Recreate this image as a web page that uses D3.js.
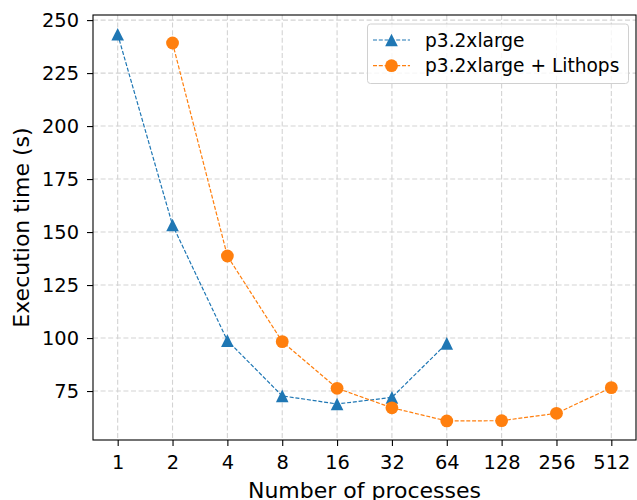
<!DOCTYPE html>
<html>
<head>
<meta charset="utf-8">
<script src="https://cdn.jsdelivr.net/npm/d3@7"></script>
<style>
  html, body { margin: 0; padding: 0; background: #fff; }
  text { font-family: "DejaVu Sans", sans-serif; }
</style>
</head>
<body>
<svg id="chart" width="637" height="500"></svg>
<script>
const categories = ["1", "2", "4", "8", "16", "32", "64", "128", "256", "512"];
const seriesNames = ["p3.2xlarge", "p3.2xlarge + Lithops"];
const p3Values = [243.3, 153.3, 98.8, 72.7, 68.9, 72.0, 97.5, null, null, null];
const lithopsValues = [null, 239.2, 138.7, 98.3, 76.3, 67.1, 60.9, 61.0, 64.5, 76.6];
const yTicks = [75, 100, 125, 150, 175, 200, 225, 250];
const colors = ["#1f77b4", "#ff7f0e"];

const svg = d3.select("#chart");
const W = 637, H = 500;
const m = { left: 93, right: 1, top: 15, bottom: 60 };
const x0 = m.left, x1 = W - m.right, y0 = m.top, y1 = H - m.bottom;

const x = d3.scaleLinear().domain([-0.45, categories.length - 1 + 0.45]).range([x0, x1]);
const y = d3.scaleLinear().domain([51.9, 252.4]).range([y1, y0]);

// grid
const grid = svg.append("g");
grid.selectAll("line.vg").data(categories).enter().append("line")
  .attr("x1", (d, i) => x(i)).attr("x2", (d, i) => x(i))
  .attr("y1", y0).attr("y2", y1)
  .attr("stroke", "#d3d3d3").attr("stroke-width", 1.1).attr("stroke-dasharray", "5,2.6");
grid.selectAll("line.hg").data(yTicks).enter().append("line")
  .attr("x1", x0).attr("x2", x1)
  .attr("y1", d => y(d)).attr("y2", d => y(d))
  .attr("stroke", "#d3d3d3").attr("stroke-width", 1.1).attr("stroke-dasharray", "5,2.6");

// axes
const xAxis = d3.axisBottom(x).tickValues(d3.range(categories.length))
  .tickFormat(i => categories[i]).tickSize(6).tickPadding(9);
const yAxis = d3.axisLeft(y).tickValues(yTicks).tickSize(6).tickPadding(8);

const gx = svg.append("g").attr("transform", `translate(0,${y1})`).call(xAxis);
const gy = svg.append("g").attr("transform", `translate(${x0},0)`).call(yAxis);
[gx, gy].forEach(g => {
  g.select(".domain").remove();
  g.selectAll(".tick line").attr("stroke", "#000").attr("stroke-width", 1.1);
  g.selectAll(".tick text").attr("fill", "#000").style("font-size", "19.4px")
    .style("font-family", "DejaVu Sans");
});
gx.selectAll(".tick text").attr("dy", "0.71em");

// frame
svg.append("rect").attr("x", x0).attr("y", y0).attr("width", x1 - x0).attr("height", y1 - y0)
  .attr("fill", "none").attr("stroke", "#000").attr("stroke-width", 1.1);

// series
const series = [p3Values, lithopsValues];
const line = d3.line().defined(d => d.v != null).x(d => x(d.i)).y(d => y(d.v));
const triangle = s => `M0,${-s}L${s},${s}L${-s},${s}Z`;

series.forEach((vals, k) => {
  const pts = vals.map((v, i) => ({ i, v }));
  svg.append("path").datum(pts).attr("d", line)
    .attr("fill", "none").attr("stroke", colors[k]).attr("stroke-width", 1.2)
    .attr("stroke-dasharray", "4,1.8");
  const g = svg.append("g");
  const dd = pts.filter(d => d.v != null);
  if (k === 0) {
    g.selectAll("path").data(dd).enter().append("path")
      .attr("d", triangle(6.3))
      .attr("transform", d => `translate(${x(d.i)},${y(d.v)})`)
      .attr("fill", colors[k]);
  } else {
    g.selectAll("circle").data(dd).enter().append("circle")
      .attr("cx", d => x(d.i)).attr("cy", d => y(d.v)).attr("r", 6.4)
      .attr("fill", colors[k]);
  }
});

// axis labels
svg.append("text").attr("x", (x0 + x1) / 2).attr("y", 497.5).attr("text-anchor", "middle")
  .style("font-size", "22px").attr("fill", "#000").text("Number of processes");
svg.append("text").attr("transform", `translate(29,${(y0 + y1) / 2}) rotate(-90)`)
  .attr("text-anchor", "middle").style("font-size", "22px").attr("fill", "#000")
  .text("Execution time (s)");

// legend
const lg = svg.append("g");
lg.append("rect").attr("x", 367.5).attr("y", 24).attr("width", 261).attr("height", 59.5)
  .attr("rx", 3).attr("fill", "rgba(255,255,255,0.8)").attr("stroke", "#d0d0d0").attr("stroke-width", 1);
seriesNames.forEach((name, k) => {
  const cy = 40 + k * 25.7;
  lg.append("line").attr("x1", 373).attr("x2", 410).attr("y1", cy).attr("y2", cy)
    .attr("stroke", colors[k]).attr("stroke-width", 1.2).attr("stroke-dasharray", "4,1.8");
  if (k === 0) {
    lg.append("path").attr("d", triangle(6.3)).attr("transform", `translate(391.5,${cy})`).attr("fill", colors[k]);
  } else {
    lg.append("circle").attr("cx", 391.5).attr("cy", cy).attr("r", 6.4).attr("fill", colors[k]);
  }
  lg.append("text").attr("x", 425).attr("y", cy).attr("dy", "0.36em")
    .style("font-size", "18.6px").attr("fill", "#000").text(name);
});
</script>
</body>
</html>
